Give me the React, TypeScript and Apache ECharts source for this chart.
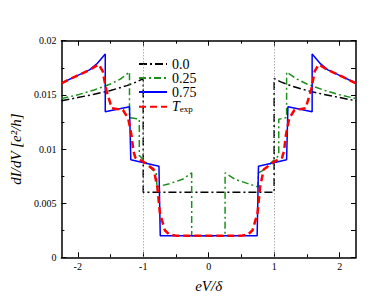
import React, { useEffect, useRef } from "react";
import * as echarts from "echarts";

const names = ["0.0", "0.25", "0.75", "Texp"];
const colors = ["#000000", "#1a8f1a", "#0000ff", "#ff0000"];

const curve00: number[][] = [
  [-2.25, 0.01445], [-2.0, 0.01475], [-1.75, 0.01505], [-1.5, 0.0154], [-1.25, 0.01585], [-1.1, 0.0162], [-1.0, 0.0165],
  [-1.0, 0.006], [1.0, 0.006],
  [1.0, 0.0165], [1.1, 0.0162], [1.25, 0.01585], [1.5, 0.0154], [1.75, 0.01505], [2.0, 0.01475], [2.25, 0.01445],
];

const curve025: number[][] = [
  [-2.25, 0.01465], [-2.0, 0.015], [-1.75, 0.01545], [-1.5, 0.016], [-1.35, 0.01645], [-1.21, 0.0171],
  [-1.21, 0.0129], [-1.06, 0.01275], [-1.06, 0.0094], [-0.95, 0.0087], [-0.88, 0.0082], [-0.8, 0.0078],
  [-0.79, 0.0065], [-0.6, 0.0068], [-0.4, 0.0072], [-0.26, 0.0078], [-0.26, 0.002],
  [0.25, 0.002], [0.25, 0.0078], [0.4, 0.0072], [0.6, 0.0068], [0.75, 0.0065], [0.76, 0.0078],
  [0.88, 0.0082], [0.95, 0.0087], [1.07, 0.0094], [1.07, 0.01275], [1.19, 0.0129], [1.19, 0.0171],
  [1.35, 0.01645], [1.5, 0.016], [1.75, 0.01545], [2.0, 0.015], [2.25, 0.01465],
];

const curve075: number[][] = [
  [-2.25, 0.01607], [-2.04, 0.01668], [-1.82, 0.0173], [-1.7, 0.01791], [-1.58, 0.01877],
  [-1.58, 0.01344], [-1.21, 0.0139], [-1.19, 0.009], [-0.76, 0.0084], [-0.74, 0.002],
  [0.74, 0.002], [0.76, 0.0084], [1.19, 0.009], [1.21, 0.0139], [1.58, 0.01344],
  [1.58, 0.01877], [1.7, 0.01791], [1.82, 0.0173], [2.04, 0.01668], [2.25, 0.01607],
];

const curveTexp: number[][] = [
  [-2.25, 0.01607], [-2.04, 0.01668], [-1.82, 0.0173], [-1.68, 0.0178], [-1.62, 0.0172], [-1.565, 0.01545],
  [-1.48, 0.01376], [-1.31, 0.0136], [-1.23, 0.01283], [-1.18, 0.0113], [-1.15, 0.0098], [-1.12, 0.0092],
  [-0.99, 0.0088], [-0.84, 0.0081], [-0.785, 0.0065], [-0.746, 0.0041], [-0.67, 0.0025], [-0.6, 0.0021],
  [-0.5, 0.002], [0.5, 0.002],
  [0.6, 0.0021], [0.67, 0.0025], [0.746, 0.0041], [0.785, 0.0065], [0.84, 0.0081], [0.99, 0.0088],
  [1.12, 0.0092], [1.15, 0.0098], [1.18, 0.0113], [1.23, 0.01283], [1.31, 0.0136], [1.48, 0.01376],
  [1.565, 0.01545], [1.62, 0.0172], [1.68, 0.0178], [1.82, 0.0173], [2.04, 0.01668], [2.25, 0.01607],
];

const xMajorTicks = [-2, -1, 0, 1, 2];
const xMinorTicks = [-1.5, -0.5, 0.5, 1.5];
const guideLines = [-1, 1];

const FONT = "Liberation Serif";

export default function App() {
  const ref = useRef<HTMLDivElement>(null);
  useEffect(() => {
    document.body.style.margin = "0";
    const chart = echarts.init(ref.current!, null, { renderer: "svg" });
    const grid = { left: 46.5, right: 18, top: 40.7, bottom: 46.7 };
    const xBase = { type: "value", min: -2.25, max: 2.25, splitLine: { show: false } };
    const axisLineStyle = { color: "#000", width: 1.5 };
    const option: any = {
      animation: false,
      backgroundColor: "#fff",
      grid,
      legend: {
        orient: "vertical",
        left: 138,
        top: 57,
        itemWidth: 28,
        itemHeight: 10,
        itemGap: 0,
        padding: 0,
        data: names,
        itemStyle: { opacity: 0 },
        formatter: (n: string) => (n === "Texp" ? "{i|T}{s|exp}" : "{n|" + n + "}"),
        textStyle: {
          fontFamily: FONT,
          fontSize: 14,
          lineHeight: 12.5,
          color: "#000",
          rich: {
            n: { fontFamily: FONT, fontSize: 14, lineHeight: 12.5, color: "#000" },
            i: { fontFamily: FONT, fontStyle: "italic", fontSize: 14, lineHeight: 12.5, color: "#000" },
            s: { fontFamily: FONT, fontSize: 9, lineHeight: 12.5, color: "#000", verticalAlign: "bottom", padding: [5, 0, 0, 0] },
          },
        },
      },
      xAxis: [
        {
          ...xBase,
          position: "bottom",
          name: "eV/δ",
          nameLocation: "middle",
          nameGap: 21,
          nameTextStyle: { fontFamily: FONT, fontStyle: "italic", fontSize: 15, color: "#000" },
          axisLine: { onZero: false, lineStyle: axisLineStyle },
          axisTick: { inside: true, length: 5, customValues: xMajorTicks, lineStyle: { color: "#000" } },
          axisLabel: { customValues: xMajorTicks, fontFamily: FONT, fontSize: 10, color: "#000", margin: 4 },
        },
        {
          ...xBase,
          position: "bottom",
          axisLine: { show: false, onZero: false },
          axisTick: { inside: true, length: 3, customValues: xMinorTicks, lineStyle: { color: "#000" } },
          axisLabel: { show: false },
        },
        {
          ...xBase,
          position: "top",
          axisLine: { onZero: false, lineStyle: axisLineStyle },
          axisTick: { inside: true, length: 5, customValues: xMajorTicks, lineStyle: { color: "#000" } },
          axisLabel: { show: false },
        },
        {
          ...xBase,
          position: "top",
          axisLine: { show: false, onZero: false },
          axisTick: { inside: true, length: 3, customValues: xMinorTicks, lineStyle: { color: "#000" } },
          axisLabel: { show: false },
        },
      ],
      yAxis: [
        {
          type: "value",
          min: 0,
          max: 0.02,
          interval: 0.005,
          position: "left",
          name: "dI/dV [e²/h]",
          nameLocation: "middle",
          nameRotate: 90,
          nameGap: 27,
          nameTextStyle: { fontFamily: FONT, fontStyle: "italic", fontSize: 15, color: "#000" },
          splitLine: { show: false },
          axisLine: { onZero: false, lineStyle: axisLineStyle },
          axisTick: { inside: true, length: 5, lineStyle: { color: "#000" } },
          minorTick: { show: true, splitNumber: 2, length: 3, lineStyle: { color: "#000" } },
          axisLabel: {
            fontFamily: FONT,
            fontSize: 10,
            color: "#000",
            margin: 5,
            formatter: (v: number) => (v === 0 ? "0" : String(Number(v.toFixed(4)))),
          },
        },
        {
          type: "value",
          min: 0,
          max: 0.02,
          interval: 0.005,
          position: "right",
          splitLine: { show: false },
          axisLine: { onZero: false, lineStyle: axisLineStyle },
          axisTick: { inside: true, length: 5, lineStyle: { color: "#000" } },
          minorTick: { show: true, splitNumber: 2, length: 5, lineStyle: { color: "#000" } },
          axisLabel: { show: false },
        },
      ],
      series: [
        {
          name: "guides",
          type: "line",
          data: [],
          silent: true,
          markLine: {
            silent: true,
            symbol: "none",
            label: { show: false },
            lineStyle: { color: "#888", type: [1, 2], width: 1 },
            data: guideLines.map((x) => ({ xAxis: x })),
          },
        },
        {
          name: names[0],
          type: "line",
          data: curve00,
          symbol: "none",
          color: colors[0],
          lineStyle: { color: colors[0], width: 1.5, type: [8, 3, 2, 3] },
          z: 3,
        },
        {
          name: names[1],
          type: "line",
          data: curve025,
          symbol: "none",
          color: colors[1],
          lineStyle: { color: colors[1], width: 1.5, type: [7, 3, 2, 3] },
          z: 4,
        },
        {
          name: names[2],
          type: "line",
          data: curve075,
          symbol: "none",
          color: colors[2],
          lineStyle: { color: colors[2], width: 1.5 },
          z: 5,
        },
        {
          name: names[3],
          type: "line",
          data: curveTexp,
          symbol: "none",
          color: colors[3],
          lineStyle: { color: colors[3], width: 2.5, type: [7, 4] },
          z: 6,
        },
      ],
    };
    chart.setOption(option);
    return () => chart.dispose();
  }, []);
  return (
    <div
      ref={ref}
      style={{ position: "absolute", left: 0, top: 0, width: 374, height: 304 }}
    />
  );
}
